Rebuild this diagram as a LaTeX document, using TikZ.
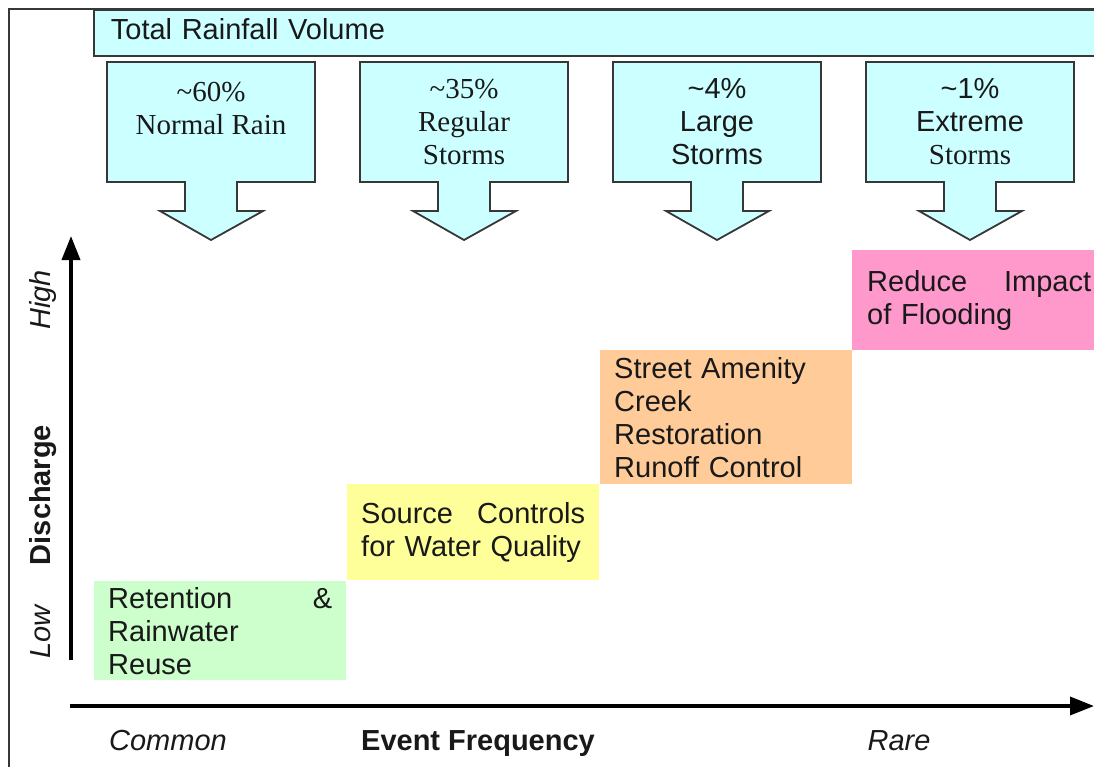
\documentclass[tikz,border=0pt]{standalone}
\usepackage{fontspec}
\setmainfont{Liberation Sans}
\newfontfamily\timesrm{Liberation Serif}
\usetikzlibrary{arrows.meta,positioning}
\definecolor{rainCyan}{RGB}{204,255,255}
\definecolor{lowGreen}{RGB}{204,255,204}
\definecolor{srcYellow}{RGB}{255,255,153}
\definecolor{creekOrange}{RGB}{255,204,153}
\definecolor{floodPink}{RGB}{255,153,204}
\definecolor{edgeGray}{RGB}{55,55,55}
\definecolor{textDark}{RGB}{25,25,25}

\begin{document}
\begin{tikzpicture}[x=1pt,y=-1pt,
  font=\fontsize{29}{33}\selectfont, text=textDark,
  rainarrow/.style={draw=edgeGray, line width=1.8pt, fill=rainCyan, line join=miter},
  rainlbl/.style={anchor=base, align=center, inner sep=0pt},
  goalbox/.style={anchor=north west, text width=224pt, inner xsep=14pt, inner ysep=0pt,
    align=left, minimum width=252pt},
  axis/.style={line width=3.5pt, -{Triangle[length=24pt,width=18pt]}},
  axislbl/.style={anchor=base, inner sep=0pt}]
\useasboundingbox (0,0) rectangle (1094,767);

% outer frame
\draw[edgeGray, line width=1.5pt] (9,767) -- (9,9) -- (1100,9);

% total volume banner
\node[draw=edgeGray, line width=1.8pt, fill=rainCyan, anchor=north west,
  minimum width=1010pt, minimum height=46pt, text width=990pt, inner xsep=17pt,
  text height=21pt, text depth=7pt, align=left] (total) at (93,9) {Total Rainfall Volume};

% the four rainfall shares
\foreach \xo in {107,360,613,866}{
  \draw[rainarrow] (\xo,62) -- (\xo+208,62) -- (\xo+208,182) -- (\xo+130,182)
    -- (\xo+130,211) -- (\xo+156,211) -- (\xo+104,240) -- (\xo+53,211)
    -- (\xo+78,211) -- (\xo+78,182) -- (\xo,182) -- cycle;
}
% base anchor sits on the last line
\node[rainlbl] (normal) at (211,135) {{\timesrm\textasciitilde60\%}\\{\timesrm Normal Rain}};
\node[rainlbl] (regular) at (464,165) {{\timesrm\textasciitilde35\%}\\{\timesrm Regular}\\{\timesrm Storms}};
\node[rainlbl] (large) at (717,165) {\textasciitilde4\%\\Large\\Storms};
\node[rainlbl] (extreme) at (970,165) {\textasciitilde1\%\\Extreme\\{\timesrm Storms}};

% management goals
\node[goalbox, fill=lowGreen, minimum height=99pt] (retention) at (94,581)
  {Retention\hfill\&\\Rainwater\\Reuse};
\node[goalbox, fill=srcYellow, minimum height=96pt] (source) at (347,484)
  {Source\hfill Controls\\for Water Quality};
\node[goalbox, fill=creekOrange, minimum height=134pt] (street) at (600,350)
  {Street Amenity\\Creek\\Restoration\\Runoff Control};
\node[goalbox, fill=floodPink, minimum height=100pt, inner xsep=15pt] (flood) at (852,250)
  {Reduce\hfill Impact\\of Flooding};

% axes
\coordinate (yfoot) at (71,660);
\coordinate (ytip) at (71,236);
\coordinate (xfoot) at (70,706);
\coordinate (xtip) at (1094,706);
\draw[axis] (yfoot) -- (ytip);
\draw[axis] (xfoot) -- (xtip);

\node[axislbl, rotate=90, font=\fontsize{29}{33}\selectfont\itshape] (high) at (50,300) {High};
\node[axislbl, rotate=90, font=\fontsize{29}{33}\selectfont\bfseries] (discharge) at (50,495) {Discharge};
\node[axislbl, rotate=90, font=\fontsize{29}{33}\selectfont\itshape] (low) at (50,632) {Low};
\node[axislbl, font=\fontsize{29}{33}\selectfont\itshape] (common) at (168,750) {Common};
\node[axislbl, font=\fontsize{29}{33}\selectfont\bfseries] (freq) at (478,750) {Event Frequency};
\node[axislbl, font=\fontsize{29}{33}\selectfont\itshape] (rare) at (899,750) {Rare};
\end{tikzpicture}
\end{document}
